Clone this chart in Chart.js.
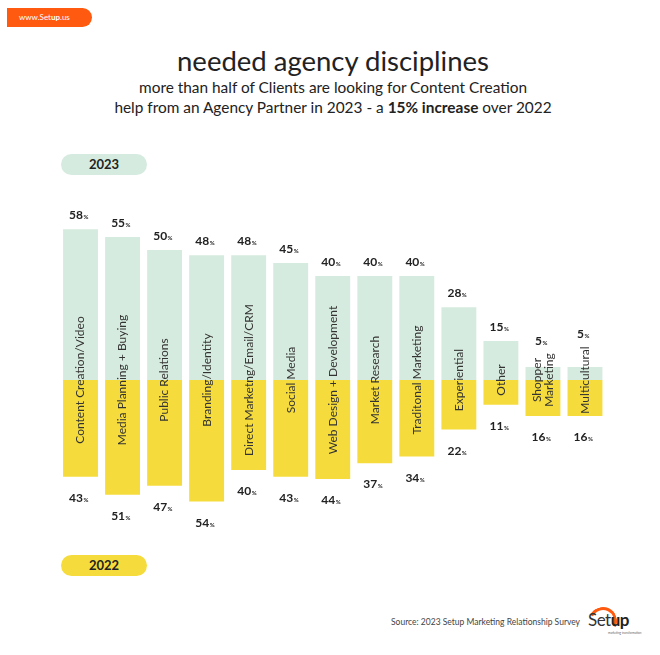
<!DOCTYPE html>
<html>
<head>
<meta charset="utf-8">
<script src="https://cdn.jsdelivr.net/npm/chart.js@4"></script>
<style>
  body { margin: 0; width: 660px; height: 655px; background: #fff; position: relative; overflow: hidden; font-family: "Lato", sans-serif; color: #222; }
  .badge { position: absolute; left: 7px; top: 8px; width: 85px; height: 19px; background: #ff5a0f; border-radius: 0 10px 10px 0; color: #fff; font-size: 8px; line-height: 19px; text-indent: 12px; }
  .title { position: absolute; left: 0; width: 666px; top: 44px; text-align: center; font-size: 27.5px; color: #222; }
  .sub { position: absolute; left: 0; width: 666px; top: 77px; text-align: center; font-size: 15.4px; line-height: 20px; color: #222; }
  .pill { position: absolute; left: 61px; width: 86px; height: 21px; border-radius: 11px; text-align: center; font-size: 13px; font-weight: bold; line-height: 21px; }
  .source { position: absolute; left: 391px; top: 617px; font-size: 8.5px; color: #444; }
  .logo { position: absolute; left: 586px; top: 604px; width: 60px; height: 34px; }
  #wrap { position: absolute; left: 0; top: 190px; width: 660px; height: 340px; }
</style>
</head>
<body>
<div class="badge">www.Set<b>up</b>.us</div>
<div class="title">needed agency disciplines</div>
<div class="sub">more than half of Clients are looking for Content Creation<br>help from an Agency Partner in 2023 - a <b>15% increase</b> over 2022</div>
<div class="pill" style="top:154px;background:#d6ebdf;">2023</div>
<div class="pill" style="top:555px;background:#f5dc3c;">2022</div>
<div class="source">Source: 2023 Setup Marketing Relationship Survey</div>
<div class="logo">
  <div style="position:absolute;left:3px;top:3px;width:22px;height:22px;border:3px solid #ff5a0f;border-radius:50%;border-left-color:transparent;border-bottom-color:transparent;transform:rotate(-20deg);"></div>
  <div style="position:absolute;left:2px;top:5px;font-size:17px;color:#333;letter-spacing:-0.5px;">Set<b style="color:#222">up</b></div>
  <div style="position:absolute;left:22px;top:27px;font-size:3px;color:#666;">marketing transformation</div>
</div>
<div id="wrap"><canvas id="chart"></canvas></div>
<script>
const categories = [
  "Content Creation/Video", "Media Planning + Buying", "Public Relations", "Branding/Identity",
  "Direct Marketng/Email/CRM", "Social Media", "Web Design + Development", "Market Research",
  "Traditonal Marketing", "Experiential", "Other", ["Shopper", "Marketing"], "Multicultural"
];
const values2023 = [58, 55, 50, 48, 48, 45, 40, 40, 40, 28, 15, 5, 5];
const values2022 = [43, 51, 47, 54, 40, 43, 44, 37, 34, 22, 11, 16, 16];

const labelPlugin = {
  id: "labels",
  afterDatasetsDraw(chart) {
    const ctx = chart.ctx;
    const top = chart.getDatasetMeta(0).data;
    const bottom = chart.getDatasetMeta(1).data;
    const base = chart.scales.y.getPixelForValue(0);
    ctx.save();
    function pct(v, cx, cy) {
      ctx.font = "bold 12px Lato";
      const w1 = ctx.measureText(String(v)).width;
      ctx.font = "bold 6px Lato";
      const w2 = ctx.measureText("%").width;
      const x0 = cx - (w1 + w2) / 2 - 2;
      ctx.fillStyle = "#222";
      ctx.textBaseline = "alphabetic";
      ctx.textAlign = "left";
      ctx.font = "bold 12px Lato";
      ctx.fillText(String(v), x0, cy + 4);
      ctx.font = "bold 6px Lato";
      ctx.fillText("%", x0 + w1 + 0.5, cy + 4);
    }
    categories.forEach((cat, i) => {
      const lines = Array.isArray(cat) ? cat : [cat];
      ctx.font = "12px Lato";
      const half = Math.max(...lines.map(l => ctx.measureText(l).width)) / 2;
      // keep the 2023 value clear of the rotated name on short bars
      pct(values2023[i], top[i].x, Math.min(top[i].y - 14, base - half - 12));
      pct(values2022[i], bottom[i].x, bottom[i].y + 21);
      ctx.save();
      ctx.translate(top[i].x, base);
      ctx.rotate(-Math.PI / 2);
      ctx.font = "12px Lato";
      ctx.fillStyle = "#333";
      ctx.textAlign = "center";
      ctx.textBaseline = "middle";
      lines.forEach((ln, k) => {
        ctx.fillText(ln, 0, (k - (lines.length - 1) / 2) * 12);
      });
      ctx.restore();
    });
    ctx.restore();
  }
};

new Chart(document.getElementById("chart"), {
  type: "bar",
  data: {
    labels: categories,
    datasets: [
      { label: "2023", data: values2023, backgroundColor: "#d6ebdf", yAxisID: "y" },
      { label: "2022", data: values2022.map(v => -v), backgroundColor: "#f5dc3c", yAxisID: "y1" }
    ]
  },
  options: {
    responsive: true,
    maintainAspectRatio: false,
    animation: false,
    layout: { padding: { left: 59.5, right: 54, top: 10, bottom: 10 } },
    datasets: { bar: { categoryPercentage: 1, barPercentage: 0.83, grouped: false } },
    scales: {
      x: { display: false },
      y: { display: false, min: -53.8, max: 69.2 },
      y1: { display: false, min: -62.2, max: 80 }
    },
    plugins: { legend: { display: false }, tooltip: { enabled: false } }
  },
  plugins: [labelPlugin]
});
</script>
</body>
</html>
